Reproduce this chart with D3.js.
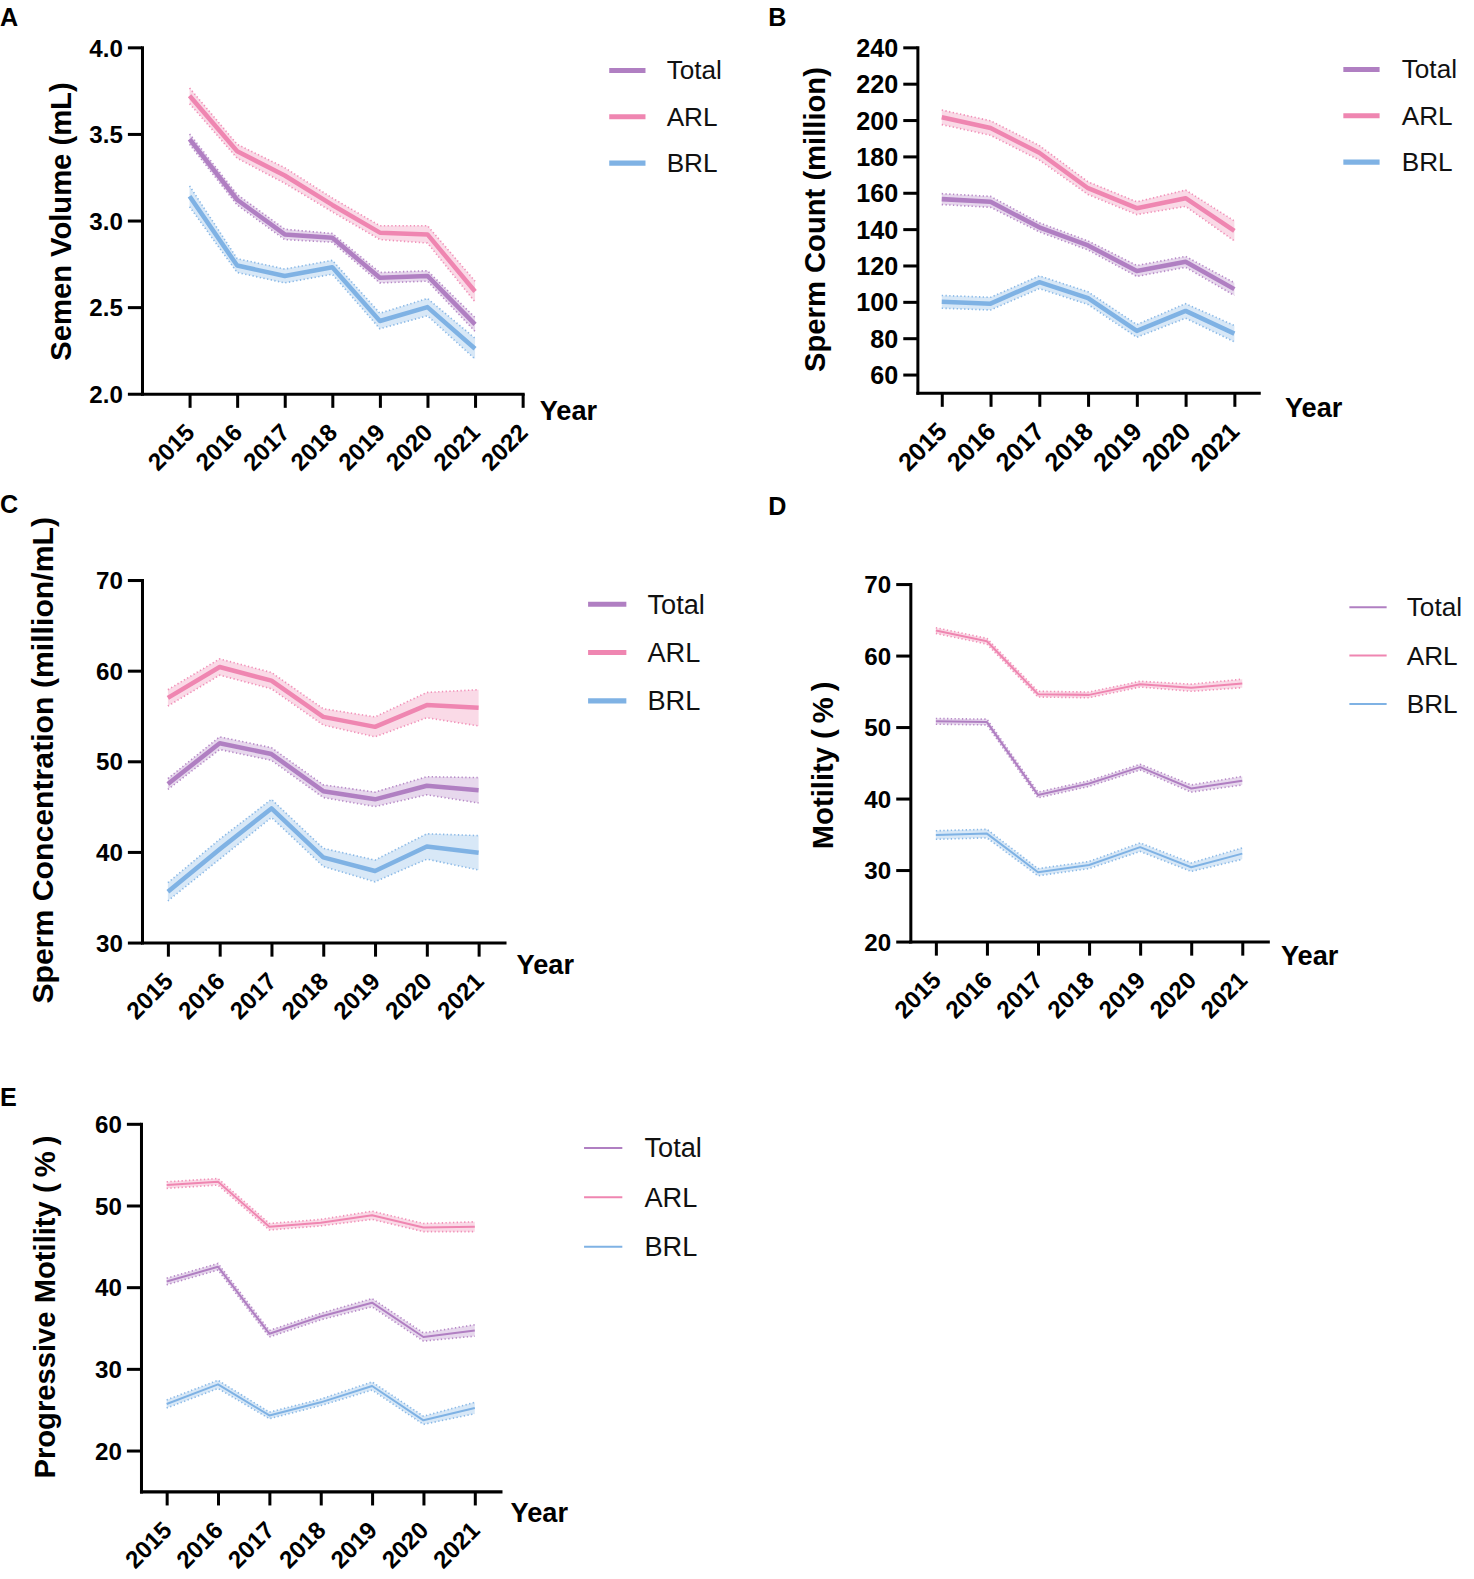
<!DOCTYPE html>
<html><head><meta charset="utf-8">
<script src="https://cdn.jsdelivr.net/npm/d3@7"></script>
<style>
body{margin:0;background:#fff}
svg{display:block}
text{font-family:"Liberation Sans",Arial,Helvetica,sans-serif}
</style>
</head><body>
<svg id="chart" width="1474" height="1579"></svg>
<script>
// ---------------- DATA ----------------
const years = [2015, 2016, 2017, 2018, 2019, 2020, 2021];
const groups = ["Total", "ARL", "BRL"];

// A: Semen volume (mL)
const volumeTotal    = [3.47, 3.12, 2.92, 2.90, 2.67, 2.68, 2.40];
const volumeTotalErr = [0.03, 0.03, 0.03, 0.025, 0.03, 0.03, 0.04];
const volumeARL      = [3.72, 3.40, 3.26, 3.09, 2.93, 2.92, 2.59];
const volumeARLErr   = [0.045, 0.04, 0.045, 0.04, 0.04, 0.05, 0.06];
const volumeBRL      = [3.14, 2.74, 2.68, 2.73, 2.42, 2.50, 2.26];
const volumeBRLErr   = [0.06, 0.04, 0.04, 0.04, 0.045, 0.05, 0.06];
const volumeYTicks   = [2.0, 2.5, 3.0, 3.5, 4.0];
const volumeXTicks   = [2015, 2016, 2017, 2018, 2019, 2020, 2021, 2022];

// B: Sperm count (million)
const countTotal    = [156.5, 155, 141, 131, 117, 122, 107];
const countTotalErr = [3, 3, 2.5, 2.5, 3, 3, 3.5];
const countARL      = [201.5, 195.6, 182, 162.5, 151.5, 157, 139];
const countARLErr   = [4, 4, 4, 3.5, 3.5, 4.5, 5.5];
const countBRL      = [100, 99, 110.8, 102, 84, 95, 82.5];
const countBRLErr   = [3.5, 3.5, 3.5, 3.5, 3.5, 4, 4.5];
const countYTicks   = [60, 80, 100, 120, 140, 160, 180, 200, 220, 240];

// C: Sperm concentration (million/mL)
const concTotal    = [47.5, 52.0, 50.8, 46.7, 45.8, 47.3, 46.8];
const concTotalErr = [0.6, 0.7, 0.7, 0.7, 0.8, 1.0, 1.4];
const concARL      = [57.0, 60.4, 58.9, 54.9, 53.8, 56.2, 55.9];
const concARLErr   = [0.9, 0.9, 0.9, 0.9, 1.1, 1.4, 2.0];
const concBRL      = [35.6, 40.3, 44.8, 39.4, 37.9, 40.6, 39.9];
const concBRLErr   = [1.0, 1.1, 1.0, 1.0, 1.2, 1.4, 1.9];
const concYTicks   = [30, 40, 50, 60, 70];

// D: Motility (%)
const motTotal    = [50.8, 50.7, 40.5, 42.1, 44.4, 41.4, 42.5];
const motTotalErr = [0.4, 0.4, 0.4, 0.4, 0.4, 0.5, 0.6];
const motARL      = [63.5, 62.0, 54.6, 54.5, 56.0, 55.5, 56.1];
const motARLErr   = [0.4, 0.4, 0.4, 0.4, 0.4, 0.5, 0.6];
const motBRL      = [34.9, 35.1, 29.7, 30.7, 33.2, 30.4, 32.3];
const motBRLErr   = [0.6, 0.6, 0.5, 0.5, 0.6, 0.6, 0.8];
const motYTicks   = [20, 30, 40, 50, 60, 70];

// E: Progressive motility (%)
const progTotal    = [40.7, 42.5, 34.3, 36.4, 38.1, 33.9, 34.7];
const progTotalErr = [0.4, 0.4, 0.4, 0.4, 0.5, 0.5, 0.7];
const progARL      = [52.5, 52.9, 47.4, 47.9, 48.8, 47.3, 47.4];
const progARLErr   = [0.4, 0.4, 0.4, 0.4, 0.5, 0.5, 0.6];
const progBRL      = [25.7, 28.1, 24.3, 25.9, 27.9, 23.7, 25.2];
const progBRLErr   = [0.5, 0.5, 0.4, 0.4, 0.5, 0.5, 0.7];
const progYTicks   = [20, 30, 40, 50, 60];

// ---------------- STYLE / LAYOUT ----------------
const groupColors = ["#b07fc2", "#ef86b1", "#7fb2e4"];

const panels = [
  { letter: "A", lx: 0, ly: 26,
    left: 141, right: 519, top: 47, bottom: 391,
    xDomain: [2014, 2022], xTicks: volumeXTicks,
    yDomain: [2, 4], yTicks: volumeYTicks, fmt: d3.format(".1f"), tickFont: 24,
    title: "Semen Volume (mL)", unit: "", tx: 61, ty: 220, titleFont: 29,
    series: [[volumeTotal, volumeTotalErr], [volumeARL, volumeARLErr], [volumeBRL, volumeBRLErr]],
    lw: 4.5, legX1: 605, legX2: 641, legTextX: 662, legY: [70, 116, 162], legFont: 26, legLW: 5,
    yearX: 536, yearY: 417 },
  { letter: "B", lx: 763, ly: 26,
    left: 911, right: 1250, top: 47, bottom: 390,
    xDomain: [2014.5, 2021.5], xTicks: years,
    yDomain: [50, 240], yTicks: countYTicks, fmt: d3.format("d"), tickFont: 25,
    title: "Sperm Count (million)", unit: "", tx: 809, ty: 218, titleFont: 29,
    series: [[countTotal, countTotalErr], [countARL, countARLErr], [countBRL, countBRLErr]],
    lw: 4.5, legX1: 1334, legX2: 1370, legTextX: 1392, legY: [69, 115, 161], legFont: 26, legLW: 5,
    yearX: 1276, yearY: 414 },
  { letter: "C", lx: 0, ly: 509,
    left: 141, right: 501, top: 576, bottom: 936,
    xDomain: [2014.5, 2021.5], xTicks: years,
    yDomain: [30, 70], yTicks: concYTicks, fmt: d3.format("d"), tickFont: 24,
    title: "Sperm Concentration (million/mL)", unit: "", tx: 42, ty: 755, titleFont: 30,
    series: [[concTotal, concTotalErr], [concARL, concARLErr], [concBRL, concBRLErr]],
    lw: 4.5, legX1: 584, legX2: 622, legTextX: 643, legY: [600, 648, 696], legFont: 27, legLW: 5,
    yearX: 513, yearY: 967 },
  { letter: "D", lx: 763, ly: 511,
    left: 904, right: 1259, top: 580, bottom: 935,
    xDomain: [2014.5, 2021.5], xTicks: years,
    yDomain: [20, 70], yTicks: motYTicks, fmt: d3.format("d"), tickFont: 24,
    title: "Motility ", unit: "(%)", tx: 817, ty: 757, titleFont: 29,
    series: [[motTotal, motTotalErr], [motARL, motARLErr], [motBRL, motBRLErr]],
    lw: 2, legX1: 1340, legX2: 1377, legTextX: 1397, legY: [603, 651, 699], legFont: 26, legLW: 2,
    yearX: 1272, yearY: 958 },
  { letter: "E", lx: 0, ly: 1098,
    left: 140, right: 497, top: 1116, bottom: 1481,
    xDomain: [2014.5, 2021.5], xTicks: years,
    yDomain: [15, 60], yTicks: progYTicks, fmt: d3.format("d"), tickFont: 24,
    title: "Progressive Motility ", unit: "(%)", tx: 45, ty: 1295, titleFont: 29,
    series: [[progTotal, progTotalErr], [progARL, progARLErr], [progBRL, progBRLErr]],
    lw: 2, legX1: 580, legX2: 618, legTextX: 640, legY: [1140, 1189, 1238], legFont: 27, legLW: 2,
    yearX: 507, yearY: 1511 }
];

const root = d3.select("#chart").append("g").attr("transform", "scale(1.007)");

function drawPanel(p) {
  const g = root.append("g");
  const x = d3.scaleLinear().domain(p.xDomain).range([p.left, p.right]);
  const y = d3.scaleLinear().domain(p.yDomain).range([p.bottom, p.top]);

  // bands + lines
  p.series.forEach(([vals, errs], i) => {
    const color = groupColors[i];
    const data = years.map((yr, j) => ({ yr, v: vals[j], e: errs[j] }));
    g.append("path").datum(data)
      .attr("d", d3.area().x(d => x(d.yr)).y0(d => y(d.v - d.e)).y1(d => y(d.v + d.e)))
      .attr("fill", color).attr("fill-opacity", 0.3).attr("stroke", "none");
    [1, -1].forEach(sgn => {
      g.append("path").datum(data)
        .attr("d", d3.line().x(d => x(d.yr)).y(d => y(d.v + sgn * d.e)))
        .attr("fill", "none").attr("stroke", color).attr("stroke-width", 1.6)
        .attr("stroke-dasharray", "1.3,2.4").attr("stroke-opacity", 0.9);
    });
    g.append("path").datum(data)
      .attr("d", d3.line().x(d => x(d.yr)).y(d => y(d.v)))
      .attr("fill", "none").attr("stroke", color).attr("stroke-width", p.lw)
      .attr("stroke-linejoin", "round");
  });

  // axes
  const ya = g.append("g").attr("transform", `translate(${p.left},0)`)
    .call(d3.axisLeft(y).tickValues(p.yTicks).tickFormat(p.fmt).tickSize(14).tickSizeOuter(0).tickPadding(5));
  const xa = g.append("g").attr("transform", `translate(0,${p.bottom})`)
    .call(d3.axisBottom(x).tickValues(p.xTicks).tickFormat(d3.format("d")).tickSize(14).tickSizeOuter(0));

  [ya, xa].forEach(a => {
    a.select(".domain").attr("stroke", "#000").attr("stroke-width", 3).attr("stroke-linecap", "square");
    a.selectAll(".tick line").attr("stroke", "#000").attr("stroke-width", 3);
    a.selectAll(".tick text").attr("fill", "#000")
      .attr("font-family", '"Liberation Sans",Arial,sans-serif')
      .attr("font-weight", "bold").attr("font-size", p.tickFont);
  });
  ya.selectAll(".tick text").attr("dy", "0.36em");
  xa.selectAll(".tick text")
    .attr("x", 0).attr("y", 0).attr("dy", 0)
    .attr("text-anchor", "end")
    .attr("transform", "translate(6,40) rotate(-45)");

  // axis title
  const t = g.append("text")
    .attr("transform", `translate(${p.tx},${p.ty}) rotate(-90)`)
    .attr("text-anchor", "middle").attr("dominant-baseline", "central")
    .attr("font-weight", "bold").attr("font-size", p.titleFont);
  t.append("tspan").text(p.title);
  if (p.unit) t.append("tspan").attr("letter-spacing", 6).text(p.unit);

  // "Year"
  g.append("text").attr("x", p.yearX).attr("y", p.yearY)
    .attr("font-weight", "bold").attr("font-size", 27).text("Year");

  // panel letter
  g.append("text").attr("x", p.lx).attr("y", p.ly)
    .attr("font-weight", "bold").attr("font-size", 25).text(p.letter);

  // legend
  groups.forEach((name, i) => {
    g.append("line").attr("x1", p.legX1).attr("x2", p.legX2)
      .attr("y1", p.legY[i]).attr("y2", p.legY[i])
      .attr("stroke", groupColors[i]).attr("stroke-width", p.legLW);
    g.append("text").attr("x", p.legTextX).attr("y", p.legY[i])
      .attr("dominant-baseline", "central")
      .attr("font-size", p.legFont).attr("fill", "#111").text(name);
  });
}

panels.forEach(drawPanel);
</script>
</body></html>
